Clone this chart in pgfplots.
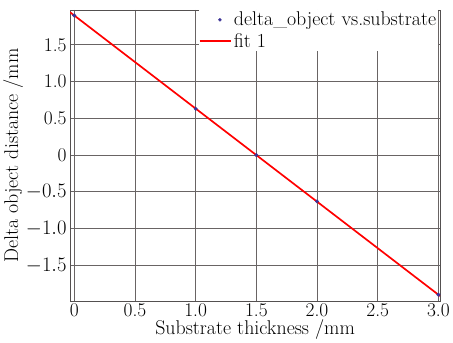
\documentclass[border=0pt]{standalone}
\usepackage{pgfplots}
\pgfplotsset{compat=1.18}
\definecolor{gridc}{RGB}{105,100,100}
\definecolor{ptc}{RGB}{60,50,150}
\begin{document}
\begin{tikzpicture}
\begin{axis}[
  scale only axis,
  width=371bp, height=292bp,
  xmin=-0.035, xmax=3.015,
  ymin=-1.99, ymax=1.975,
  xtick={0,0.5,1.0,1.5,2.0,2.5,3.0},
  xticklabels={0,0.5,1.0,1.5,2.0,2.5,3.0},
  ytick={-1.5,-1.0,-0.5,0,0.5,1.0,1.5},
  yticklabels={$-1.5$,$-1.0$,$-0.5$,0,0.5,1.0,1.5},
  tick align=inside,
  major tick length=4bp,
  grid=major,
  major grid style={gridc, line width=0.8pt},
  axis line style={gridc!80!black, line width=0.8pt},
  tick style={gridc, line width=0.8pt},
  xlabel={Substrate thickness /mm},
  ylabel={Delta object distance /mm},
  ticklabel style={font=\fontsize{19.5}{20}\selectfont},
  label style={font=\fontsize{20}{20}\selectfont},
  xticklabel style={yshift=1bp},
  xlabel style={yshift=4bp},
  ylabel style={yshift=-4bp},
  legend style={at={(rel axis cs:0.995,1)}, anchor=north east, draw=none, fill=white,
    font=\fontsize{20}{17}\selectfont, inner sep=0pt, row sep=2pt},
  legend cell align=left,
]
\addplot[only marks, mark=*, mark size=1.8pt, color=ptc, legend image code/.code={\fill[ptc] (0.72cm,0cm) circle (1.5pt);}]
 coordinates {(0,1.9) (1,0.63) (1.5,0) (2,-0.63) (3,-1.9)};
\addlegendentry{delta\_object vs.substrate}
\addplot[red, line width=1.7pt, legend image code/.code={\draw[red, line width=1.3pt] (0cm,0cm) -- (1.12cm,0cm);}]
 coordinates {(-0.035,1.944) (3.015,-1.919)};
\addlegendentry{fit 1}
\end{axis}
\path ([yshift=10bp]current axis.north) -- ++(0,0);
\end{tikzpicture}
\end{document}
